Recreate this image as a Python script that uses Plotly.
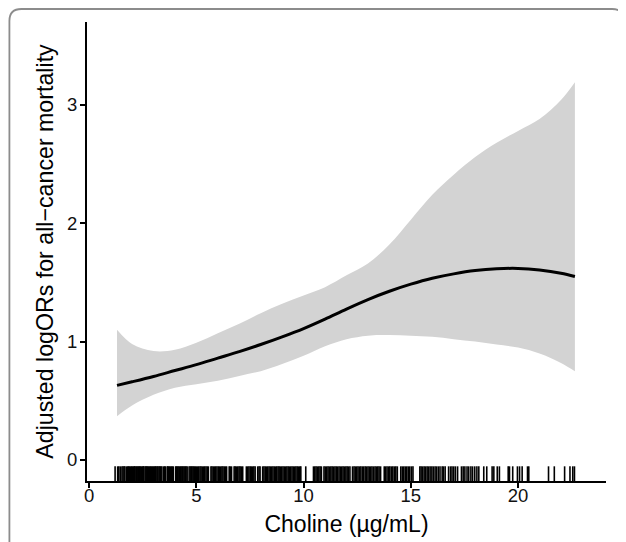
import plotly.graph_objects as go

# ---- data ----
choline = [1.3, 2, 3, 4, 5, 6, 7, 8, 9, 10, 11, 12, 13, 14, 15, 16, 17, 18, 19, 20, 21, 22, 22.65]
fit = [0.63, 0.66, 0.705, 0.755, 0.805, 0.86, 0.915, 0.975, 1.04, 1.11, 1.19, 1.275, 1.355, 1.425, 1.485, 1.535, 1.572, 1.60, 1.615, 1.618, 1.605, 1.578, 1.55]
upper = [1.10, 0.98, 0.92, 0.93, 0.99, 1.07, 1.15, 1.24, 1.32, 1.39, 1.46, 1.56, 1.66, 1.82, 2.03, 2.24, 2.41, 2.56, 2.68, 2.78, 2.88, 3.04, 3.19]
lower = [0.37, 0.46, 0.55, 0.61, 0.64, 0.67, 0.71, 0.75, 0.81, 0.88, 0.96, 1.02, 1.05, 1.055, 1.05, 1.04, 1.02, 1.00, 0.975, 0.95, 0.90, 0.82, 0.75]

rug = [
    1.21, 1.33, 1.38, 1.45, 1.53, 1.58, 1.63, 1.67, 1.75, 1.80, 1.84, 1.87, 1.93, 1.97,
    2.01, 2.06, 2.10, 2.13, 2.18, 2.22, 2.27, 2.31, 2.35, 2.38, 2.44, 2.48, 2.52, 2.55,
    2.61, 2.65, 2.69, 2.73, 2.77, 2.82, 2.86, 2.90, 2.95, 2.99,
    3.04, 3.08, 3.12, 3.17, 3.21, 3.26, 3.30, 3.34, 3.39, 3.47, 3.52, 3.55, 3.64, 3.66,
    3.70, 3.74, 3.79, 3.84, 3.88, 3.93, 4.04, 4.06, 4.11, 4.15, 4.20, 4.25, 4.29, 4.34,
    4.38, 4.43, 4.48, 4.52, 4.57, 4.66, 4.71, 4.76, 4.80, 4.85, 4.90, 4.95,
    5.00, 5.06, 5.11, 5.17, 5.22, 5.28, 5.34, 5.39, 5.45, 5.51, 5.56, 5.68, 5.73, 5.79,
    5.85, 5.90, 5.96, 6.02, 6.07, 6.13, 6.19, 6.24, 6.30, 6.36, 6.41, 6.53, 6.58, 6.64,
    6.76, 6.81, 6.87, 6.93, 6.99, 7.04, 7.10, 7.16, 7.33, 7.39, 7.45, 7.51, 7.56, 7.62,
    7.68, 7.74, 7.86, 7.92, 7.97, 8.09, 8.15, 8.21, 8.27, 8.33, 8.39, 8.45, 8.51, 8.57,
    8.63, 8.69, 8.75, 8.81, 8.86, 8.92, 8.98, 9.04, 9.10, 9.16, 9.22, 9.28, 9.34, 9.40,
    9.46, 9.52, 9.58, 9.64, 9.70, 9.76, 9.82, 9.87, 10.10,
    10.46, 10.52, 10.58, 10.64, 10.71, 10.77, 10.83, 10.95, 11.01, 11.08, 11.14, 11.20,
    11.27, 11.33, 11.39, 11.46, 11.52, 11.58, 11.65, 11.71, 11.78, 11.84, 11.90, 11.97,
    12.03, 12.09, 12.16, 12.28, 12.35, 12.41, 12.48, 12.54, 12.61, 12.67, 12.74, 12.80,
    12.87, 12.93, 13.00, 13.06, 13.13, 13.19, 13.26, 13.33, 13.39, 13.46, 13.52, 13.59,
    13.76, 13.82, 13.89, 13.96, 14.02, 14.09, 14.16, 14.23, 14.30, 14.37, 14.53, 14.60,
    14.67, 14.74, 14.81, 14.88, 14.95, 15.03, 15.10,
    15.42, 15.48, 15.55, 15.62, 15.69, 15.76, 15.83, 15.90, 15.98, 16.05, 16.13, 16.20,
    16.28, 16.36, 16.46, 16.52, 16.60, 16.76, 16.85, 16.92, 17.00, 17.08, 17.18,
    17.36, 17.44, 17.52, 17.62, 17.70, 17.80, 17.88, 17.98, 18.08, 18.17,
    18.40, 18.54, 18.79, 18.87, 19.03, 19.13, 19.54, 19.60, 19.75, 19.97, 20.07, 20.19,
    20.44, 20.50, 21.42, 21.69, 22.17, 22.42, 22.55, 22.63,
]

x_ticks = [0, 5, 10, 15, 20]
y_ticks = [0, 1, 2, 3]
x_title = "Choline (µg/mL)"
y_title = "Adjusted logORs for all−cancer mortality"

FONT = "Liberation Sans, Arial, sans-serif"
RUG_LEN = 0.032

fig = go.Figure()

# confidence band
fig.add_trace(go.Scatter(x=choline, y=upper, mode="lines", line=dict(width=0, shape="spline", color="#d3d3d3"),
                         showlegend=False, hoverinfo="skip"))
fig.add_trace(go.Scatter(x=choline, y=lower, mode="lines", line=dict(width=0, shape="spline", color="#d3d3d3"),
                         fill="tonexty", fillcolor="#d3d3d3", showlegend=False, hoverinfo="skip"))
# fitted curve
fig.add_trace(go.Scatter(x=choline, y=fit, mode="lines", line=dict(width=3, shape="spline", color="black"),
                         showlegend=False))

# rug
rx, ry = [], []
for v in rug:
    rx += [v, v, None]
    ry += [0, RUG_LEN, None]
fig.add_trace(go.Scatter(x=rx, y=ry, yaxis="y2", mode="lines", line=dict(width=1.6, color="black"),
                         showlegend=False, hoverinfo="skip"))

# outer rounded frame (decorative panel border)
x0, x1, yt, yb = -0.1495, 1.0347, 1.0283, -0.2
rxr, ryr = 0.0231, 0.0261
frame = (f"M {x0},{yb} L {x0},{yt-ryr} Q {x0},{yt} {x0+rxr},{yt} "
         f"L {x1-rxr},{yt} Q {x1},{yt} {x1},{yt-ryr} L {x1},{yb}")

# the page body adds an 8px offset, so the figure is sized/margined to compensate
fig.update_layout(
    width=618, height=534,
    margin=dict(l=79, r=20, t=14, b=61),
    paper_bgcolor="white", plot_bgcolor="white",
    font=dict(family=FONT, color="black"),
    xaxis=dict(range=[-0.1, 24.1], tickvals=x_ticks, ticks="outside", ticklen=5, tickwidth=1.6,
               tickcolor="black", showline=True, linecolor="black", linewidth=2, showgrid=False,
               zeroline=False, tickfont=dict(size=18.5, color="#111"), ticklabelstandoff=-8,
               automargin=False,
               title=dict(text=x_title, font=dict(size=23), standoff=11)),
    yaxis=dict(range=[-0.178, 3.70], tickvals=y_ticks, ticks="outside", ticklen=5, tickwidth=1.6,
               tickcolor="black", showline=True, linecolor="black", linewidth=2, showgrid=False,
               zeroline=False, tickfont=dict(size=18.5, color="#111"), ticklabelstandoff=-1,
               automargin=False,
               title=dict(text=y_title, font=dict(size=23.2), standoff=7)),
    yaxis2=dict(overlaying="y", range=[0, 1], visible=False, fixedrange=True),
    shapes=[dict(type="path", path=frame, xref="paper", yref="paper",
                 line=dict(color="#8c8c8c", width=1.8), layer="above")],
)

fig.write_html("out.html")
